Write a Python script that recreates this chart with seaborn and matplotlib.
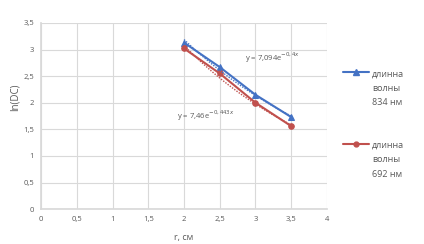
import numpy as np
import pandas as pd
import matplotlib
matplotlib.use("Agg")
import matplotlib.pyplot as plt
import seaborn as sns
from matplotlib.lines import Line2D

r_cm = [2.0, 2.5, 3.0, 3.5]
ln_834 = [3.13, 2.67, 2.15, 1.73]
ln_692 = [3.02, 2.55, 2.00, 1.56]
labels = ["длинна\nволны\n834 нм", "длинна\nволны\n692 нм"]
fit_834 = (7.094, -0.4)
fit_692 = (7.46, -0.443)
xticks = [0, 0.5, 1, 1.5, 2, 2.5, 3, 3.5, 4]
yticks = [0, 0.5, 1, 1.5, 2, 2.5, 3, 3.5]

sns.set_theme(style="white")
plt.rcParams['font.family'] = ['Open Sans', 'DejaVu Sans']

gray = "#595959"
blue = "#4472C4"
red = "#C0504D"

df = pd.DataFrame({
    "r": r_cm * 2,
    "v": ln_834 + ln_692,
    "s": [labels[0]] * 4 + [labels[1]] * 4,
})

fig = plt.figure(figsize=(4.24, 2.44), dpi=100)
ax = fig.add_axes([0.097, 0.143, 0.674, 0.763])

sns.lineplot(data=df[df.s == labels[0]], x="r", y="v", ax=ax, color=blue,
             marker="^", markersize=5, markeredgecolor=blue, linewidth=1.5, legend=False)
sns.lineplot(data=df[df.s == labels[1]], x="r", y="v", ax=ax, color=red,
             marker="o", markersize=4, markeredgecolor=red, linewidth=1.5, legend=False)

xs = np.linspace(2, 3.5, 30)
ax.plot(xs, fit_834[0] * np.exp(fit_834[1] * xs), color=blue, linestyle=(0, (1, 1)), linewidth=1)
ax.plot(xs, fit_692[0] * np.exp(fit_692[1] * xs), color=red, linestyle=(0, (1, 1)), linewidth=1)

ax.text(2.86, 2.78, "y = 7,094e$^{-0,4x}$", fontsize=5.5, color=gray)
ax.text(1.9, 1.7, "y = 7,46e$^{-0,443x}$", fontsize=5.5, color=gray)

ax.set_xlim(0, 4)
ax.set_ylim(0, 3.5)
ax.set_xticks(xticks)
ax.set_yticks(yticks)
ax.set_xticklabels([f"{t:g}".replace(".", ",") for t in xticks])
ax.set_yticklabels([f"{t:g}".replace(".", ",") for t in yticks])
ax.tick_params(axis="both", labelsize=5.5, colors=gray, length=0, pad=5)
ax.grid(True, color="#D9D9D9", linewidth=0.8)
for s in ["top", "right"]:
    ax.spines[s].set_visible(False)
ax.spines["left"].set_color("#D9D9D9")
ax.spines["bottom"].set_color("#D9D9D9")
ax.set_xlabel("r, см", fontsize=6.5, color=gray, labelpad=7)
ax.set_ylabel("ln(DC)", fontsize=7, color=gray)
ax.yaxis.set_label_coords(-0.073, 0.6)

handles = [
    Line2D([0], [0], color=blue, marker="^", markersize=4.5, linewidth=1.5),
    Line2D([0], [0], color=red, marker="o", markersize=3.5, linewidth=1.5),
]
leg = fig.legend(handles, labels, loc="upper left", bbox_to_anchor=(0.79, 0.75),
                 frameon=False, fontsize=6.5, labelcolor=gray, handlelength=2.9,
                 labelspacing=3.7, handletextpad=0.3)
for t in leg.get_texts():
    t.set_linespacing(1.8)
    t.set_multialignment("left")
try:
    for col in leg._legend_handle_box.get_children():
        for item in col.get_children():
            item.align = "top"
except Exception:
    pass

fig.savefig("out.png", dpi=100)
